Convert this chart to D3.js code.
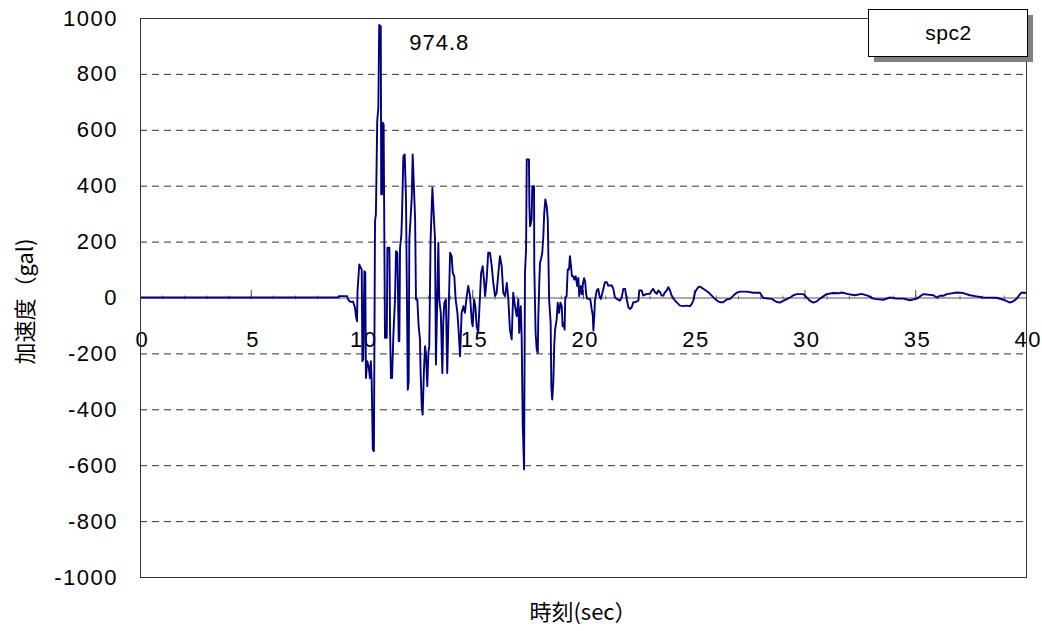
<!DOCTYPE html>
<html>
<head>
<meta charset="utf-8">
<script src="https://cdn.jsdelivr.net/npm/d3@7"></script>
<style>
  html, body { margin: 0; padding: 0; background: #fff; }
  svg { display: block; }
  .num { font-family: "Liberation Sans", Arial, sans-serif; font-size: 22px; letter-spacing: 1.5px; fill: #000; }
  .ttl { font-family: "Noto Sans CJK JP", "Liberation Sans", sans-serif; font-size: 22px; fill: #000; }
</style>
</head>
<body>
<svg id="chart" width="1042" height="631"></svg>
<script>
// Acceleration record "spc2": time (sec) and acceleration (gal)
const timeSec = [
  0, 8.94, 8.98, 9.35, 9.39, 9.48, 9.62, 9.66, 9.71, 9.75, 9.80,
  9.82, 9.86, 9.90, 9.96, 10.01, 10.04, 10.08, 10.13, 10.17, 10.20,
  10.26, 10.33, 10.38, 10.42, 10.46, 10.51, 10.56, 10.61, 10.65, 10.71,
  10.76, 10.80, 10.87, 10.89, 10.93, 10.96, 11.00, 11.02, 11.06, 11.14,
  11.17, 11.26, 11.29, 11.33, 11.38, 11.44, 11.51, 11.56, 11.62, 11.68,
  11.71, 11.74, 11.80, 11.83, 11.89, 11.95, 12.01, 12.09, 12.13, 12.16,
  12.22, 12.27, 12.31, 12.37, 12.42, 12.46, 12.52, 12.58, 12.64, 12.67,
  12.72, 12.76, 12.82, 12.87, 12.91, 12.97, 13.02, 13.06, 13.12, 13.20,
  13.24, 13.32, 13.36, 13.42, 13.47, 13.51, 13.58, 13.65, 13.69, 13.74,
  13.81, 13.87, 13.94, 14.00, 14.07, 14.12, 14.19, 14.25, 14.33, 14.39,
  14.45, 14.52, 14.60, 14.67, 14.75, 14.82, 14.90, 14.98, 15.02, 15.08,
  15.14, 15.20, 15.27, 15.35, 15.40, 15.47, 15.53, 15.58, 15.65, 15.72,
  15.80, 15.88, 15.95, 16.03, 16.10, 16.18, 16.25, 16.33, 16.40, 16.48,
  16.56, 16.63, 16.70, 16.78, 16.85, 16.93, 17.01, 17.08, 17.12, 17.19,
  17.23, 17.28, 17.30, 17.34, 17.38, 17.43, 17.46, 17.56, 17.58, 17.61,
  17.68, 17.71, 17.79, 17.80, 17.86, 17.91, 17.96, 17.98, 18.03, 18.06,
  18.10, 18.16, 18.21, 18.25, 18.30, 18.36, 18.41, 18.47, 18.54, 18.57,
  18.61, 18.66, 18.70, 18.74, 18.81, 18.86, 18.92, 18.98, 19.04, 19.08,
  19.13, 19.17, 19.20, 19.26, 19.31, 19.37, 19.41, 19.46, 19.50, 19.56,
  19.61, 19.67, 19.74, 19.79, 19.83, 19.90, 19.96, 20.00, 20.05, 20.10,
  20.14, 20.19, 20.32, 20.35, 20.39, 20.44, 20.47, 20.51, 20.54, 20.62,
  20.69, 20.74, 20.80, 20.84, 20.92, 20.99, 21.07, 21.14, 21.30, 21.37,
  21.44, 21.52, 21.67, 21.75, 21.82, 21.90, 21.97, 22.05, 22.12, 22.20,
  22.27, 22.35, 22.50, 22.54, 22.65, 22.72, 22.88, 23.02, 23.10, 23.17,
  23.25, 23.33, 23.40, 23.48, 23.55, 23.63, 23.70, 23.78, 23.85, 23.93,
  24.00, 24.15, 24.30, 24.38, 24.53, 24.68, 24.83, 24.91, 24.98, 25.06,
  25.13, 25.21, 25.28, 25.43, 25.58, 25.66, 25.81, 25.96, 26.11, 26.19,
  26.33, 26.49, 26.64, 26.79, 26.94, 27.09, 27.39, 27.69, 27.99, 28.07,
  28.14, 28.52, 28.74, 28.89, 29.04, 29.20, 29.35, 29.50, 29.65, 29.95,
  30.10, 30.25, 30.40, 30.55, 30.70, 30.85, 31.00, 31.30, 31.53, 31.68,
  31.98, 32.28, 32.58, 32.88, 33.11, 33.26, 33.56, 33.86, 34.16, 34.46,
  34.76, 35.07, 35.29, 35.36, 35.82, 35.97, 36.12, 36.27, 36.42, 36.57,
  36.87, 37.17, 37.47, 37.77, 38.07, 38.68, 38.98, 39.28, 39.43, 39.58,
  39.73, 39.81, 40.00
];
const accelGal = [
  0, 0, 5, 5, -7, -15, -15, -25, -37, -67, -85,
  23, 70, 118, 108, 100, -228, -220, 94, 90, -288,
  -228, -250, -288, -228, -300, -544, -550, 273, 297, 631,
  679, 974.8, 970, 369, 369, 625, 620, 357, -144, -144,
  178, 178, -120, -288, -288, -132, -13, 166, 160, -156,
  -156, 178, 225, 297, 506, 512, 350, -330, -300, 207,
  290, 360, 512, 390, 280, -7, -7, -103, -150, -270,
  -389, -419, -258, -174, -200, -317, -198, -174, 208, 392,
  330, 208, -240, -7, 196, -7, -55, -270, -90, -19,
  -7, -270, -31, 160, 148, 88, 76, -7, -55, -126,
  -210, -55, -31, -55, 5, 41, 5, -85, -103, -7,
  -31, -103, -126, 5, 88, 112, 64, 5, 64, 160,
  160, 112, 52, 5, 17, 88, 148, 112, 17, 5,
  52, -7, -115, -150, 17, -31, -67, -7, -126, -31,
  -138, -460, -508, -615, 88, 172, 494, 494, 327, 255,
  279, 398, 398, 112, -126, -186, -198, -79, 64, 124,
  136, 160, 220, 303, 351, 327, 279, -7, -91, -317,
  -365, -305, -174, -115, -79, -19, -55, -19, -31, -103,
  -91, -115, 0, 5, 100, 100, 148, 112, 76, 76,
  64, 76, 41, 70, 5, 41, 11, 52, 69, 55,
  13, -5, -5, -17, -41, -64, -118, -64, -11, 25,
  31, 7, -5, 5, 31, 55, 55, 43, 43, 31,
  1, -5, -11, 1, 31, 31, -5, -35, -41, -35,
  -17, -17, -11, 25, 25, 7, 13, 13, 25, 31,
  19, 13, 25, 19, 7, 7, 19, 25, 37, 25,
  7, -11, -23, -29, -31, -29, -31, -23, -11, 19,
  29, 37, 39, 31, 23, 19, 7, -5, -14, -17,
  -17, -7, -5, 7, 17, 21, 21, 17, 17, 7,
  -2, -5, -16, -18, -12, -6, 0, 8, 12, 12,
  0, -12, -18, -14, -4, 4, 12, 16, 15, 18,
  12, 8, 13, 6, -4, -6, -8, 0, -4, -4,
  -10, -4, 8, 12, 8, 0, 6, 6, 12, 14,
  18, 16, 8, 4, 0, -1, -8, -18, -13, -4,
  12, 18, 16
];
const xTicks = [0, 5, 10, 15, 20, 25, 30, 35, 40];
const yTicks = [-1000, -800, -600, -400, -200, 0, 200, 400, 600, 800, 1000];
const seriesName = "spc2";
const xTitle = "時刻(sec）";
const yTitle = "加速度（gal)";

const svg = d3.select("#chart");
const plot = { left: 140, right: 1026, top: 18, bottom: 577 };

const x = d3.scaleLinear().domain([0, 40]).range([plot.left, plot.right]);
const y = d3.scaleLinear().domain([-1000, 1000]).range([plot.bottom, plot.top]);

// plain integer labels with an ASCII hyphen for negatives
const plainFmt = d => String(d);

// dashed horizontal gridlines
svg.append("g")
  .selectAll("line")
  .data(yTicks.filter(v => v !== 0 && Math.abs(v) !== 1000))
  .join("line")
  .attr("x1", plot.left).attr("x2", plot.right)
  .attr("y1", d => y(d) + 0.5).attr("y2", d => y(d) + 0.5)
  .attr("stroke", "#333")
  .attr("stroke-width", 1)
  .attr("stroke-dasharray", "7,5");

// y axis labels
const yAxis = d3.axisLeft(y).tickValues(yTicks).tickFormat(plainFmt).tickSize(0).tickPadding(22);
const gy = svg.append("g").attr("transform", `translate(${plot.left},0)`).call(yAxis);
gy.select(".domain").remove();
gy.selectAll("text").attr("class", "num");
gy.attr("font-size", null).attr("font-family", null);

// zero line with minor ticks every second
const minor = d3.range(0, 41, 1);
svg.append("g")
  .selectAll("line")
  .data(minor)
  .join("line")
  .attr("x1", d => x(d) + 0.5).attr("x2", d => x(d) + 0.5)
  .attr("y1", y(0) - 2).attr("y2", y(0) + 2)
  .attr("stroke", "#777");

const xAxis = d3.axisBottom(x).tickValues(xTicks).tickFormat(plainFmt).tickSize(-8).tickPadding(33);
const gx = svg.append("g").attr("transform", `translate(0,${y(0) + 0.5})`).call(xAxis);
gx.attr("font-size", null).attr("font-family", null);
gx.select(".domain").attr("stroke", "#555").attr("d", `M${plot.left},0H${plot.right}`);
gx.selectAll(".tick line").attr("stroke", "#444");
gx.selectAll("text").attr("class", "num").attr("dx", "0.08em");

// acceleration trace
const pts = timeSec.map((t, i) => [t, accelGal[i]]);
svg.append("path")
  .datum(pts)
  .attr("fill", "none")
  .attr("stroke", "#000080")
  .attr("stroke-width", 1.9)
  .attr("stroke-linejoin", "round")
  .attr("d", d3.line().x(d => x(d[0])).y(d => y(d[1])));

// plot frame
svg.append("rect")
  .attr("x", plot.left + 0.5).attr("y", plot.top + 0.5)
  .attr("width", plot.right - plot.left).attr("height", plot.bottom - plot.top)
  .attr("fill", "none").attr("stroke", "#333").attr("stroke-width", 1);

// peak annotation
const peakIdx = d3.maxIndex(accelGal);
svg.append("text")
  .attr("class", "num")
  .attr("x", x(timeSec[peakIdx]) + 30)
  .attr("y", y(accelGal[peakIdx]) + 25)
  .style("letter-spacing", "1px")
  .text(accelGal[peakIdx].toFixed(1));

// legend box with drop shadow
const lg = { x: 868, y: 9, w: 159, h: 47, off: 6 };
svg.append("rect")
  .attr("x", lg.x + lg.off).attr("y", lg.y + lg.off)
  .attr("width", lg.w).attr("height", lg.h)
  .attr("fill", "#808080");
svg.append("rect")
  .attr("x", lg.x + 0.5).attr("y", lg.y + 0.5)
  .attr("width", lg.w).attr("height", lg.h)
  .attr("fill", "#fff").attr("stroke", "#000").attr("stroke-width", 1);
svg.append("text")
  .attr("class", "num")
  .attr("x", lg.x + lg.w / 2 + 1).attr("y", lg.y + lg.h / 2)
  .attr("dy", "0.35em")
  .attr("text-anchor", "middle")
  .style("letter-spacing", "0.5px")
  .style("font-size", "21px")
  .text(seriesName);

// axis titles
svg.append("text")
  .attr("class", "ttl")
  .attr("transform", `translate(25,${(plot.top + plot.bottom) / 2 + 4}) rotate(-90)`)
  .attr("dy", "0.35em")
  .attr("text-anchor", "middle")
  .text(yTitle);
svg.append("text")
  .attr("class", "ttl")
  .attr("x", (plot.left + plot.right) / 2)
  .attr("y", 612)
  .attr("dy", "0.35em")
  .attr("text-anchor", "middle")
  .text(xTitle);
</script>
</body>
</html>
